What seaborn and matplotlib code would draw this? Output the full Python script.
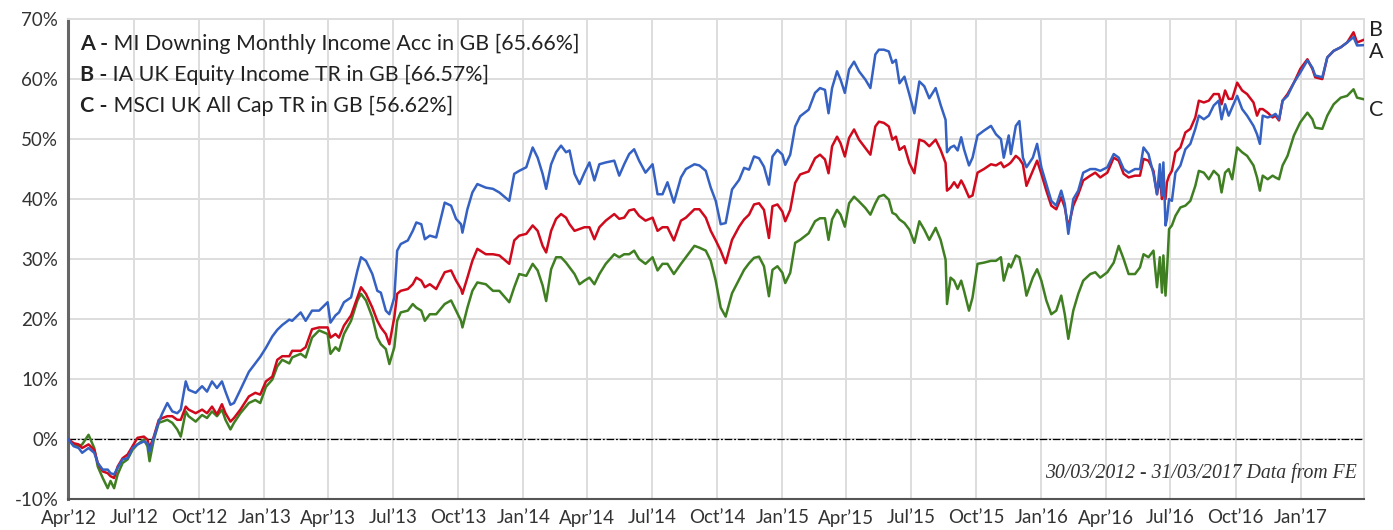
import pandas as pd
import matplotlib
matplotlib.use("Agg")
import matplotlib.pyplot as plt
import matplotlib.dates as mdates
import matplotlib.transforms as mtransforms
import seaborn as sns

# weekly-ish readings of cumulative total return (%), 30/03/2012 - 31/03/2017
dates = [
    '2012-03-30', '2012-04-07', '2012-04-14', '2012-04-19', '2012-04-28', '2012-05-06', '2012-05-11', '2012-05-18', '2012-05-25', '2012-05-29',
    '2012-06-03', '2012-06-08', '2012-06-15', '2012-06-22', '2012-06-29', '2012-07-06', '2012-07-15', '2012-07-20', '2012-07-23', '2012-07-29',
    '2012-08-05', '2012-08-10', '2012-08-17', '2012-08-24', '2012-08-31', '2012-09-05', '2012-09-12', '2012-09-16', '2012-09-26', '2012-10-05',
    '2012-10-12', '2012-10-19', '2012-10-26', '2012-11-02', '2012-11-07', '2012-11-14', '2012-11-19', '2012-11-28', '2012-12-10', '2012-12-19',
    '2012-12-26', '2013-01-03', '2013-01-12', '2013-01-19', '2013-01-26', '2013-02-05', '2013-02-09', '2013-02-21', '2013-02-28', '2013-03-09',
    '2013-03-19', '2013-03-31', '2013-04-04', '2013-04-11', '2013-04-16', '2013-04-23', '2013-05-03', '2013-05-12', '2013-05-17', '2013-05-24',
    '2013-06-02', '2013-06-09', '2013-06-14', '2013-06-21', '2013-06-26', '2013-07-03', '2013-07-07', '2013-07-12', '2013-07-22', '2013-07-29',
    '2013-08-03', '2013-08-10', '2013-08-15', '2013-08-22', '2013-08-31', '2013-09-12', '2013-09-21', '2013-09-28', '2013-10-05', '2013-10-07',
    '2013-10-14', '2013-10-21', '2013-10-28', '2013-11-09', '2013-11-19', '2013-11-28', '2013-12-12', '2013-12-19', '2013-12-26', '2014-01-05',
    '2014-01-14', '2014-01-21', '2014-01-28', '2014-02-02', '2014-02-09', '2014-02-16', '2014-02-23', '2014-03-02', '2014-03-07', '2014-03-14',
    '2014-03-21', '2014-03-28', '2014-04-04', '2014-04-11', '2014-04-18', '2014-04-27', '2014-05-09', '2014-05-16', '2014-05-23', '2014-05-30',
    '2014-06-06', '2014-06-13', '2014-06-22', '2014-07-02', '2014-07-09', '2014-07-16', '2014-07-23', '2014-08-01', '2014-08-11', '2014-08-18',
    '2014-08-30', '2014-09-06', '2014-09-15', '2014-09-22', '2014-09-29', '2014-10-06', '2014-10-13', '2014-10-22', '2014-11-01', '2014-11-08',
    '2014-11-15', '2014-11-22', '2014-11-29', '2014-12-06', '2014-12-13', '2014-12-18', '2014-12-25', '2015-01-01', '2015-01-05', '2015-01-12',
    '2015-01-19', '2015-01-26', '2015-02-07', '2015-02-16', '2015-02-23', '2015-03-02', '2015-03-07', '2015-03-12', '2015-03-19', '2015-03-24',
    '2015-03-30', '2015-04-05', '2015-04-12', '2015-04-19', '2015-04-28', '2015-05-05', '2015-05-12', '2015-05-17', '2015-05-24', '2015-05-31',
    '2015-06-05', '2015-06-10', '2015-06-15', '2015-06-22', '2015-06-29', '2015-07-06', '2015-07-13', '2015-07-20', '2015-07-27', '2015-08-05',
    '2015-08-12', '2015-08-19', '2015-08-21', '2015-08-26', '2015-08-31', '2015-09-05', '2015-09-10', '2015-09-14', '2015-09-21', '2015-09-26',
    '2015-10-03', '2015-10-12', '2015-10-22', '2015-10-29', '2015-11-05', '2015-11-09', '2015-11-16', '2015-11-19', '2015-11-26', '2015-12-01',
    '2015-12-06', '2015-12-11', '2015-12-20', '2015-12-26', '2016-01-01', '2016-01-08', '2016-01-15', '2016-01-22', '2016-01-29', '2016-02-03',
    '2016-02-08', '2016-02-15', '2016-02-22', '2016-02-29', '2016-03-10', '2016-03-17', '2016-03-24', '2016-04-03', '2016-04-12', '2016-04-19',
    '2016-04-26', '2016-05-03', '2016-05-12', '2016-05-19', '2016-05-24', '2016-05-31', '2016-06-07', '2016-06-12', '2016-06-16', '2016-06-19',
    '2016-06-21', '2016-06-24', '2016-06-26', '2016-06-29', '2016-07-03', '2016-07-08', '2016-07-15', '2016-07-22', '2016-07-29', '2016-08-05',
    '2016-08-10', '2016-08-17', '2016-08-24', '2016-08-31', '2016-09-07', '2016-09-11', '2016-09-16', '2016-09-21', '2016-09-26', '2016-10-03',
    '2016-10-10', '2016-10-17', '2016-10-26', '2016-10-31', '2016-11-04', '2016-11-08', '2016-11-15', '2016-11-22', '2016-11-26', '2016-12-01',
    '2016-12-06', '2016-12-13', '2016-12-22', '2016-12-31', '2017-01-10', '2017-01-17', '2017-01-21', '2017-01-31', '2017-02-07', '2017-02-16',
    '2017-02-26', '2017-03-07', '2017-03-16', '2017-03-21', '2017-03-31',
]

# A - MI Downing Monthly Income Acc
fund_a = [
    0.0, -1.2, -1.5, -2.3, -1.5, -2.3, -4.0, -5.1, -5.1, -5.7,
    -5.9, -4.8, -3.4, -3.2, -1.5, -0.9, -0.4, -0.7, -2.1, 0.2,
    2.9, 4.3, 6.0, 4.6, 4.3, 4.9, 9.6, 8.2, 7.7, 8.8,
    7.9, 9.6, 8.5, 9.6, 7.9, 5.7, 6.0, 8.2, 11.2, 12.6,
    13.7, 15.2, 17.1, 18.2, 19.0, 19.9, 19.7, 21.1, 19.7, 21.4,
    21.4, 22.8, 19.4, 20.6, 21.1, 22.8, 23.6, 28.1, 30.3, 29.7,
    27.5, 24.7, 24.4, 21.4, 20.8, 23.6, 31.4, 32.5, 33.1, 34.7,
    36.1, 35.8, 33.3, 33.9, 33.6, 39.4, 38.9, 36.7, 35.8, 34.4,
    38.3, 41.1, 42.5, 41.9, 41.7, 41.1, 39.7, 44.2, 44.7, 45.3,
    48.6, 46.9, 44.2, 41.7, 45.8, 47.8, 48.9, 47.8, 48.1, 44.2,
    42.5, 44.4, 46.1, 43.1, 45.8, 46.1, 46.4, 43.9, 45.8, 47.5,
    48.3, 46.4, 44.4, 45.8, 40.8, 40.8, 42.8, 39.4, 43.6, 45.0,
    45.8, 45.6, 44.7, 41.9, 39.7, 35.8, 36.0, 41.6, 43.2, 45.2,
    44.9, 47.1, 46.8, 45.4, 42.4, 47.1, 48.2, 47.4, 45.7, 47.4,
    52.1, 53.8, 54.9, 57.7, 58.5, 58.2, 54.3, 58.5, 61.3, 59.9,
    57.7, 61.6, 62.9, 61.3, 59.9, 58.5, 64.1, 64.9, 64.9, 64.6,
    62.7, 63.2, 59.3, 60.4, 57.4, 54.3, 59.6, 58.8, 56.8, 58.5,
    55.7, 53.2, 47.8, 48.6, 48.9, 48.1, 50.3, 48.3, 45.6, 46.9,
    50.6, 51.4, 52.2, 50.8, 50.0, 46.9, 50.6, 47.5, 52.2, 53.0,
    46.9, 45.3, 46.9, 49.2, 45.3, 42.5, 39.7, 38.9, 41.4, 39.2,
    34.2, 40.0, 41.4, 44.4, 45.0, 45.0, 44.7, 45.3, 47.5, 46.9,
    45.0, 44.4, 45.0, 45.0, 48.6, 47.5, 44.2, 40.8, 45.8, 40.6,
    46.1, 35.6, 36.7, 40.0, 39.7, 44.4, 45.6, 48.3, 49.2, 51.7,
    53.9, 53.3, 53.9, 55.6, 56.4, 53.3, 55.8, 53.9, 55.3, 57.2,
    55.0, 53.9, 52.2, 50.8, 49.2, 53.9, 53.6, 53.9, 54.2, 53.3,
    56.4, 57.2, 59.4, 61.1, 63.1, 61.9, 60.6, 60.3, 63.6, 64.7,
    65.3, 66.1, 67.0, 65.6, 65.66,
]

# B - IA UK Equity Income TR
sector_b = [
    0.0, -0.7, -0.9, -1.5, -0.9, -1.8, -4.0, -5.4, -5.7, -6.2,
    -6.5, -4.6, -3.2, -2.6, -1.2, 0.2, 0.4, -0.1, -1.5, 0.4,
    3.2, 3.5, 3.8, 3.8, 3.2, 3.2, 5.4, 4.9, 4.3, 4.9,
    4.3, 5.4, 4.1, 5.8, 4.3, 2.9, 3.5, 4.9, 7.1, 7.7,
    7.4, 9.6, 10.4, 13.2, 13.8, 13.8, 14.7, 14.7, 15.3, 18.3,
    18.6, 18.6, 16.9, 17.5, 16.9, 18.9, 20.6, 23.6, 25.3, 24.2,
    21.9, 19.7, 18.6, 17.5, 15.8, 20.3, 24.2, 24.7, 25.0, 25.8,
    26.9, 26.4, 25.3, 25.8, 25.0, 27.8, 28.1, 26.4, 25.0, 24.2,
    26.9, 29.7, 31.7, 30.8, 30.8, 30.6, 29.2, 33.1, 33.9, 34.2,
    35.6, 34.7, 32.2, 31.1, 34.7, 36.7, 37.5, 36.9, 35.8, 34.7,
    35.0, 35.3, 35.3, 33.3, 35.3, 36.4, 37.5, 36.7, 36.9, 38.1,
    38.3, 37.2, 36.4, 36.9, 34.7, 35.3, 35.3, 33.1, 36.4, 36.9,
    38.3, 38.3, 36.9, 34.7, 33.1, 31.4, 29.3, 33.2, 35.4, 36.6,
    37.4, 39.1, 39.3, 38.2, 33.5, 38.8, 39.1, 37.9, 36.3, 38.2,
    42.7, 44.1, 44.6, 46.8, 47.4, 46.6, 44.3, 48.8, 50.4, 49.3,
    47.1, 50.2, 51.6, 49.9, 48.5, 47.4, 52.1, 52.9, 52.7, 52.1,
    49.9, 50.4, 48.2, 48.8, 46.0, 44.3, 49.9, 49.6, 48.8, 49.9,
    48.2, 46.0, 41.4, 41.9, 42.8, 41.9, 43.1, 42.2, 40.3, 40.6,
    44.4, 45.0, 45.8, 45.6, 46.1, 45.3, 45.8, 46.1, 47.2, 46.7,
    45.8, 42.2, 44.7, 46.4, 44.2, 41.4, 38.9, 38.3, 40.3, 38.6,
    35.3, 38.9, 40.8, 43.1, 43.9, 44.4, 43.6, 44.4, 46.9, 46.4,
    44.2, 43.6, 43.9, 43.9, 46.7, 46.4, 44.7, 40.8, 43.6, 40.0,
    41.7, 40.0, 42.8, 43.9, 44.7, 47.8, 48.6, 51.1, 51.7, 53.6,
    56.4, 56.1, 56.4, 57.5, 57.5, 55.8, 58.1, 56.7, 56.7, 59.4,
    58.1, 57.5, 56.1, 53.9, 55.0, 55.0, 54.4, 53.6, 53.9, 53.1,
    56.4, 57.5, 59.4, 61.7, 63.3, 61.7, 60.3, 60.0, 63.6, 64.7,
    65.3, 66.1, 67.8, 66.1, 66.57,
]

# C - MSCI UK All Cap TR
index_c = [
    0.0, -0.9, -1.2, -0.9, 0.7, -1.5, -4.6, -6.5, -8.2, -7.0,
    -8.2, -5.9, -4.0, -3.4, -1.8, -0.9, -0.1, -1.2, -3.7, -0.1,
    2.7, 2.9, 3.2, 2.7, 1.6, 0.4, 4.6, 3.8, 2.9, 4.0,
    3.5, 4.6, 3.8, 4.9, 3.2, 1.6, 2.7, 4.3, 6.0, 6.5,
    6.0, 8.7, 9.9, 12.1, 13.2, 12.6, 13.6, 14.2, 13.6, 16.9,
    18.1, 17.5, 14.2, 15.3, 14.7, 17.5, 19.7, 23.1, 24.2, 23.1,
    20.3, 16.9, 15.8, 15.0, 12.5, 15.3, 19.7, 21.1, 21.4, 22.5,
    21.9, 21.4, 19.7, 20.8, 20.8, 22.5, 23.1, 21.4, 19.7, 18.6,
    21.9, 24.7, 26.1, 25.8, 24.7, 24.7, 22.8, 25.3, 27.5, 27.2,
    29.2, 28.1, 25.6, 23.0, 28.3, 30.3, 30.3, 29.4, 28.6, 27.5,
    25.8, 26.4, 26.9, 25.8, 27.5, 29.2, 30.8, 30.3, 30.8, 30.8,
    31.4, 30.0, 29.2, 30.3, 28.1, 29.2, 29.2, 27.5, 29.2, 30.3,
    32.2, 31.9, 31.4, 29.7, 26.4, 21.9, 20.4, 24.3, 26.6, 28.2,
    29.3, 30.2, 30.4, 28.8, 23.8, 28.2, 28.8, 27.7, 26.0, 27.7,
    32.7, 33.2, 34.3, 36.3, 36.8, 36.8, 33.2, 36.6, 38.2, 37.4,
    35.4, 39.3, 40.4, 39.6, 38.5, 37.4, 39.3, 40.4, 40.7, 39.9,
    37.7, 37.4, 36.6, 36.0, 34.9, 32.7, 36.3, 34.9, 33.2, 35.2,
    33.2, 29.9, 22.5, 26.9, 26.4, 25.0, 26.4, 24.7, 21.4, 23.6,
    29.2, 29.4, 29.7, 29.7, 30.3, 26.4, 29.2, 28.6, 30.6, 30.3,
    27.5, 23.9, 26.9, 28.3, 26.4, 23.1, 20.8, 21.4, 23.9, 20.8,
    16.7, 21.4, 24.2, 26.4, 27.5, 27.8, 26.9, 27.8, 29.4, 32.2,
    30.0, 27.5, 27.5, 28.6, 30.8, 30.3, 31.4, 25.3, 30.3, 24.4,
    30.6, 23.9, 27.8, 35.0, 35.6, 37.2, 38.6, 38.9, 39.7, 42.2,
    44.7, 44.4, 43.3, 44.7, 43.9, 41.1, 44.4, 45.0, 43.3, 48.6,
    47.8, 47.2, 45.6, 43.6, 41.4, 43.9, 43.3, 43.9, 43.6, 43.3,
    45.6, 47.2, 50.6, 52.8, 54.4, 53.3, 51.9, 51.7, 53.9, 55.8,
    56.9, 57.2, 58.3, 56.9, 56.62,
]

legend_keys = ['A', 'B', 'C']
legend_names = [
    'MI Downing Monthly Income Acc in GB [65.66%]',
    'IA UK Equity Income TR in GB [66.57%]',
    'MSCI UK All Cap TR in GB [56.62%]',
]
colors = {'A': '#3561c2', 'B': '#cf0a1d', 'C': '#3f7f22'}

df = pd.DataFrame({'date': pd.to_datetime(dates), 'A': fund_a, 'B': sector_b, 'C': index_c})
long_df = df.melt(id_vars='date', var_name='series', value_name='value')

sns.set_style("white")
plt.rcParams['font.family'] = ['Lato', 'DejaVu Sans']

fig = plt.figure(figsize=(13.93, 5.30), dpi=100)
ax = fig.add_axes([0.0488, 0.0585, 0.9305, 0.9055])

# draw C first so A ends up on top
for key in ['C', 'B', 'A']:
    sns.lineplot(data=long_df[long_df['series'] == key], x='date', y='value',
                 color=colors[key], linewidth=1.8, ax=ax, legend=False, zorder=3)

ax.axhline(0, color='black', linewidth=0.9, linestyle=(0, (6, 1.5, 1.5, 1.5)), zorder=2)

ax.set_xlim(pd.Timestamp('2012-03-30'), pd.Timestamp('2017-03-31'))
ax.set_ylim(-10, 70)
ax.set_yticks(range(-10, 71, 10))
ax.set_yticklabels([f'{v}%' for v in range(-10, 71, 10)])
ax.xaxis.set_major_locator(mdates.MonthLocator(bymonth=[1, 4, 7, 10]))
ax.xaxis.set_major_formatter(mdates.DateFormatter('%b\u2019%y'))
ax.set_xlabel('')
ax.set_ylabel('')

ax.grid(True, color='#dddddd', linewidth=1.4)
ax.tick_params(axis='both', direction='out', length=4, width=1.2, color='#444444',
               labelsize=13.5, labelcolor='#333333', pad=3)
ax.spines['left'].set_color('#666666')
ax.spines['left'].set_linewidth(2.2)
ax.spines['bottom'].set_color('#555555')
ax.spines['bottom'].set_linewidth(1.5)
for side in ['top', 'right']:
    ax.spines[side].set_color('#dddddd')
    ax.spines[side].set_linewidth(1.4)

# legend as text block, bold key letter
legend_y = [0.948, 0.883, 0.819]
for key, name, y in zip(legend_keys, legend_names, legend_y):
    t = ax.text(0.0093, y, key + ' -', transform=ax.transAxes, fontsize=15.4,
                fontweight='bold', color='#222222', va='center', ha='left')
    ax.annotate(' ' + name, xy=(1, 0.5), xycoords=t, fontsize=15.4, color='#222222',
                va='center', ha='left')

# end labels on the right
end_trans = mtransforms.blended_transform_factory(ax.transAxes, ax.transData)
ax.text(1.004, sector_b[-1] + 1.6, 'B', transform=end_trans, fontsize=15.5, color='#222222', va='center', ha='left')
ax.text(1.004, fund_a[-1] - 1.2, 'A', transform=end_trans, fontsize=15.5, color='#222222', va='center', ha='left')
ax.text(1.004, index_c[-1] - 1.8, 'C', transform=end_trans, fontsize=15.5, color='#222222', va='center', ha='left')

ax.text(0.9946, 0.054, '30/03/2012 - 31/03/2017 Data from FE', transform=ax.transAxes,
        fontsize=14.2, fontstyle='italic', family='Liberation Serif', color='#333333',
        ha='right', va='center')

fig.savefig('out.png', dpi=100)
